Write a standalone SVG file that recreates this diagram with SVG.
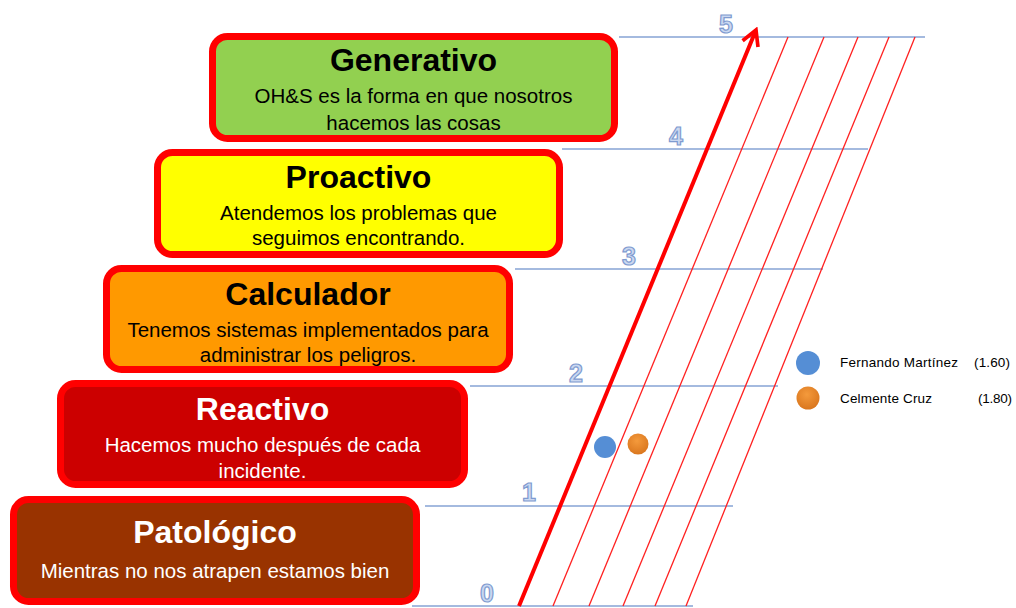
<svg xmlns="http://www.w3.org/2000/svg" width="1016" height="608" viewBox="0 0 1016 608">
<defs>
<style>
.box{stroke:#ff0000;stroke-width:7}
.t{font-family:"Liberation Sans",Arial,sans-serif;font-weight:bold;font-size:32px;text-anchor:middle}
.s{font-family:"Liberation Sans",Arial,sans-serif;font-size:20.5px;text-anchor:middle}
.dk{fill:#000}
.lt{fill:#fff}
.lvl{stroke:#86a3d4;stroke-width:1.5;fill:none}
.num{font-family:"Liberation Sans",Arial,sans-serif;font-weight:bold;font-size:25px;text-anchor:middle;fill:#cbd8f0;stroke:#7f9bd0;stroke-width:1.2}
.thin{stroke:#ff2020;stroke-width:1.3;fill:none}
.leg{font-family:"Liberation Sans",Arial,sans-serif;font-size:13.5px;fill:#000}
</style>
<marker id="ah" viewBox="0 0 12 12" refX="10" refY="6" markerWidth="5" markerHeight="5" orient="auto" markerUnits="strokeWidth">
<polyline points="1,1 10,6 1,11" fill="none" stroke="#ff0000" stroke-width="2.2"/>
</marker>
<radialGradient id="og" cx="0.45" cy="0.35" r="0.7">
<stop offset="0" stop-color="#f49a3c"/><stop offset="1" stop-color="#d8741c"/>
</radialGradient>
</defs>
<rect width="1016" height="608" fill="#fff"/>

<g id="scale">
<line class="lvl" x1="619" y1="37" x2="925" y2="37"/>
<line class="lvl" x1="562" y1="149" x2="868" y2="149"/>
<line class="lvl" x1="515" y1="269" x2="823" y2="269"/>
<line class="lvl" x1="470" y1="386" x2="778" y2="386"/>
<line class="lvl" x1="425" y1="506" x2="733" y2="506"/>
<line class="lvl" x1="412" y1="606" x2="693" y2="606"/>
<text class="num" x="726" y="33">5</text>
<text class="num" x="676" y="145">4</text>
<text class="num" x="629" y="265">3</text>
<text class="num" x="576" y="382">2</text>
<text class="num" x="529" y="501">1</text>
<text class="num" x="487" y="602">0</text>
<line class="thin" x1="553" y1="606" x2="788" y2="37"/>
<line class="thin" x1="589" y1="606" x2="824" y2="37"/>
<line class="thin" x1="623" y1="606" x2="858" y2="37"/>
<line class="thin" x1="655" y1="606" x2="889" y2="37"/>
<line class="thin" x1="686" y1="606" x2="915" y2="37"/>
</g>

<g id="connectors">
<line x1="519" y1="606" x2="756" y2="30" stroke="#ff0000" stroke-width="4" marker-end="url(#ah)"/>
</g>

<g id="generativo">
<rect class="box" x="212.5" y="36.5" width="402" height="102" rx="15" fill="#92d050"/>
<text class="t dk" x="413.5" y="71">Generativo</text>
<text class="s dk" x="413.5" y="103">OH&amp;S es la forma en que nosotros</text>
<text class="s dk" x="413.5" y="130">hacemos las cosas</text>
</g>

<g id="proactivo">
<rect class="box" x="157.5" y="152.5" width="402" height="102" rx="15" fill="#ffff00"/>
<text class="t dk" x="358.5" y="188">Proactivo</text>
<text class="s dk" x="358.5" y="220">Atendemos los problemas que</text>
<text class="s dk" x="358.5" y="245">seguimos encontrando.</text>
</g>

<g id="calculador">
<rect class="box" x="106.5" y="268.5" width="403" height="101" rx="15" fill="#ff9900"/>
<text class="t dk" x="308" y="305">Calculador</text>
<text class="s dk" x="308" y="337">Tenemos sistemas implementados para</text>
<text class="s dk" x="308" y="362">administrar los peligros.</text>
</g>

<g id="reactivo">
<rect class="box" x="60.5" y="383.5" width="404" height="101" rx="15" fill="#cc0000"/>
<text class="t lt" x="262.5" y="420">Reactivo</text>
<text class="s lt" x="262.5" y="452">Hacemos mucho después de cada</text>
<text class="s lt" x="262.5" y="478">incidente.</text>
</g>

<g id="patologico">
<rect class="box" x="13.5" y="499.5" width="403" height="102" rx="15" fill="#993300"/>
<text class="t lt" x="215" y="543">Patológico</text>
<text class="s lt" x="215" y="578">Mientras no nos atrapen estamos bien</text>
</g>

<g id="points">
<circle cx="605" cy="447" r="11" fill="#558ed5"/>
<circle cx="638" cy="444" r="10.5" fill="url(#og)"/>
</g>

<g id="legend">
<circle cx="808" cy="363" r="12" fill="#558ed5"/>
<circle cx="808" cy="398" r="11.5" fill="url(#og)"/>
<text class="leg" x="840" y="367" textLength="118">Fernando Martínez</text>
<text class="leg" x="974" y="367" textLength="36">(1.60)</text>
<text class="leg" x="840" y="403" textLength="92">Celmente Cruz</text>
<text class="leg" x="978" y="403" textLength="34">(1.80)</text>
</g>
</svg>
